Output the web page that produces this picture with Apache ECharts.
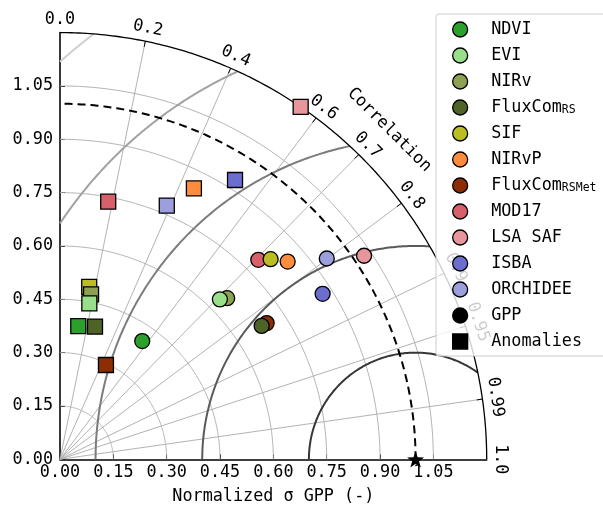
<!DOCTYPE html>
<html>
<head>
<meta charset="utf-8">
<script src="https://cdn.jsdelivr.net/npm/echarts@6.0.0/dist/echarts.min.js"></script>
<style>
html, body {margin: 0; padding: 0; background: #fff;}
#taylor {width: 603px; height: 505px;}
</style>
</head>
<body>
<div id="taylor"></div>
<script>
// models and their values (normalized std, correlation)
var models = ['NDVI', 'EVI', 'NIRv', 'FluxComRS', 'SIF', 'NIRvP', 'FluxComRSMet', 'MOD17', 'LSA SAF', 'ISBA', 'ORCHIDEE'];
var stdNorm  = [0.405, 0.636, 0.653, 0.680, 0.817, 0.848, 0.696, 0.791, 1.029, 0.873, 0.939];
var corrNorm = [0.571, 0.707, 0.720, 0.834, 0.725, 0.755, 0.835, 0.705, 0.831, 0.846, 0.799];
// anomalies (squares)
var stdAnom  = [0.378, 0.446, 0.472, 0.386, 0.492, 0.850, 0.295, 0.737, 1.200, 0.927, 0.774];
var corrAnom = [0.136, 0.185, 0.185, 0.255, 0.167, 0.443, 0.438, 0.184, 0.564, 0.531, 0.388];
var refStd = 1.0;

var stdTicks = [0.15, 0.30, 0.45, 0.60, 0.75, 0.90, 1.05];
var corrTicks = [0, 0.2, 0.4, 0.6, 0.7, 0.8, 0.9, 0.95, 0.99, 1];
var corrTickText = ['0.0', '0.2', '0.4', '0.6', '0.7', '0.8', '0.9', '0.95', '0.99', '1.0'];
var rmsLevels = [0.3, 0.6, 0.9, 1.2, 1.5];
var smax = 1.2;

var modelColors = ['#2ca02c', '#98df8a', '#8ca252', '#4f6228', '#bcbd22', '#fd8d3c', '#8c2d04', '#d6616b', '#e7969c', '#6b6ecf', '#9c9ede'];
var rmsColors = ['#363636', '#5a5a5a', '#7c7c7c', '#a2a2a2', '#cfcfcf'];
var FONT = 'DejaVu Sans Mono';
var FS = 16.8;

function toXY(s, c) {
    return [s * c, s * Math.sqrt(Math.max(0, 1 - c * c))];
}

// arc around (cx, 0)
function arc(cx, r, t0, t1) {
    var pts = [], n = 180;
    for (var i = 0; i <= n; i++) {
        var t = t0 + (t1 - t0) * i / n;
        pts.push([cx + r * Math.cos(t), r * Math.sin(t)]);
    }
    return pts;
}

// rms contour clipped to the quarter disc
function rmsArc(r) {
    var t0 = 0, t1 = Math.PI;
    if (refStd + r > smax) {
        var xi = (smax * smax + refStd * refStd - r * r) / (2 * refStd);
        var yi = Math.sqrt(smax * smax - xi * xi);
        t0 = Math.atan2(yi, xi - refStd);
    }
    if (r > refStd) {
        t1 = Math.atan2(Math.sqrt(r * r - refStd * refStd), -refStd);
    }
    return arc(refStd, r, t0, t1);
}

var gridArcs = stdTicks.map(function (s) {
    return {coords: arc(0, s, 0, Math.PI / 2)};
});
var radials = corrTicks.filter(function (c) { return c > 0 && c < 1; }).map(function (c) {
    return {coords: [[0, 0], toXY(smax, c)]};
});
var arcTicks = corrTicks.filter(function (c) { return c > 0 && c < 1; }).map(function (c) {
    return {coords: [toXY(smax, c), toXY(smax - 0.016, c)]};
});
var contours = rmsLevels.map(function (r, i) {
    return {coords: rmsArc(r), lineStyle: {color: rmsColors[i]}};
});
var corrLabelData = corrTicks.map(function (c, i) {
    var ang = Math.acos(c) * 180 / Math.PI;
    return {
        value: toXY(1.237, c),
        label: {formatter: corrTickText[i], rotate: ang - 90}
    };
});

var hidden = {color: 'rgba(0,0,0,0)', opacity: 1};
var series = [
    {type: 'lines', coordinateSystem: 'cartesian2d', polyline: true, silent: true, clip: false, z: 1,
     lineStyle: {color: '#b3b3b3', width: 1, opacity: 1}, data: gridArcs},
    {type: 'lines', coordinateSystem: 'cartesian2d', silent: true, clip: false, z: 1,
     lineStyle: {color: '#b3b3b3', width: 1, opacity: 1}, data: radials},
    {type: 'lines', coordinateSystem: 'cartesian2d', polyline: true, silent: true, clip: false, z: 2,
     lineStyle: {width: 2, opacity: 1}, data: contours},
    {type: 'lines', coordinateSystem: 'cartesian2d', polyline: true, silent: true, clip: false, z: 2,
     lineStyle: {color: '#000', width: 2, type: [8, 5], opacity: 1},
     data: [{coords: arc(0, refStd, 0, Math.PI / 2)}]},
    {type: 'lines', coordinateSystem: 'cartesian2d', polyline: true, silent: true, clip: false, z: 2,
     lineStyle: {color: '#000', width: 1.3, opacity: 1},
     data: [{coords: arc(0, smax, 0, Math.PI / 2)}]},
    {type: 'lines', coordinateSystem: 'cartesian2d', silent: true, clip: false, z: 2,
     lineStyle: {color: '#000', width: 1, opacity: 1}, data: arcTicks},
    {type: 'scatter', silent: true, clip: false, symbolSize: 2, itemStyle: hidden,
     label: {show: true, position: 'inside', fontFamily: FONT, fontSize: FS, color: '#000', align: 'center', verticalAlign: 'middle'},
     data: corrLabelData},
    {type: 'scatter', silent: true, clip: false, symbolSize: 2, itemStyle: hidden,
     label: {show: true, position: 'inside', formatter: 'Correlation', rotate: -45, fontFamily: FONT, fontSize: FS, color: '#000',
             align: 'center', verticalAlign: 'middle'},
     data: [toXY(1.31, Math.cos(Math.PI / 4))]}
];

// later models drawn first, as in the figure
for (var i = models.length - 1; i >= 0; i--) {
    series.push({
        name: models[i],
        type: 'scatter',
        clip: false,
        z: 5,
        symbol: 'circle',
        symbolSize: 15,
        itemStyle: {color: modelColors[i], borderColor: '#000', borderWidth: 1.3, opacity: 1},
        data: [
            {value: toXY(stdNorm[i], corrNorm[i])},
            {value: toXY(stdAnom[i], corrAnom[i]), symbol: 'rect'}
        ]
    });
}

var starPath = 'path://M0,-10L2.35,-3.24L9.51,-3.09L3.8,1.24L5.88,8.09L0,4L-5.88,8.09L-3.8,1.24L-9.51,-3.09L-2.35,-3.24Z';
var squarePath = 'path://M0,0L10,0L10,10L0,10Z';

series.push({
    name: 'GPP', type: 'scatter', clip: false, z: 6,
    symbol: starPath, symbolKeepAspect: true, symbolSize: 17,
    itemStyle: {color: '#000', opacity: 1},
    data: [toXY(refStd, 1)]
});
series.push({
    name: 'Anomalies', type: 'scatter', symbol: 'rect',
    itemStyle: {color: '#000', opacity: 1}, data: []
});

var legendData = models.map(function (m) { return {name: m, icon: 'circle'}; });
legendData.push({name: 'GPP', icon: 'circle'});
legendData.push({name: 'Anomalies', icon: squarePath});

var option = {
    animation: false,
    backgroundColor: '#fff',
    grid: {left: 60, top: 32.6, width: 426.7, height: 426.7, outerBoundsMode: 'none', containLabel: false},
    xAxis: {
        type: 'value', min: 0, max: 1.2, interval: 0.15,
        name: 'Normalized σ GPP (-)', nameLocation: 'middle', nameGap: 29,
        nameTextStyle: {fontFamily: FONT, fontSize: FS, color: '#000'},
        axisLine: {show: true, lineStyle: {color: '#000', width: 1.6}},
        axisTick: {show: true, inside: true, length: 5, lineStyle: {color: '#000'}},
        axisLabel: {fontFamily: FONT, fontSize: FS, color: '#000', margin: 5,
            formatter: function (v) { return v > 1.19 ? '' : v.toFixed(2); }},
        splitLine: {show: false}
    },
    yAxis: {
        type: 'value', min: 0, max: 1.2, interval: 0.15,
        axisLine: {show: true, lineStyle: {color: '#222', width: 1.8}},
        axisTick: {show: true, inside: true, length: 5, lineStyle: {color: '#000'}},
        axisLabel: {fontFamily: FONT, fontSize: FS, color: '#000', margin: 7,
            formatter: function (v) { return v > 1.19 ? '' : v.toFixed(2); }},
        splitLine: {show: false}
    },
    legend: {
        orient: 'vertical', left: 436, top: 14,
        padding: [7, 30, 6, 16],
        itemWidth: 52, itemHeight: 15, itemGap: 9,
        backgroundColor: 'rgba(255,255,255,0.8)', borderColor: '#cccccc', borderWidth: 1, borderRadius: 3,
        itemStyle: {borderColor: '#000', borderWidth: 1.3, opacity: 1},
        selectedMode: false,
        textStyle: {
            fontFamily: FONT, fontSize: FS, color: '#000', lineHeight: 17,
            rich: {
                n: {fontFamily: FONT, fontSize: FS, color: '#000', lineHeight: 17},
                s: {fontFamily: FONT, fontSize: 11.5, color: '#000', lineHeight: 9, verticalAlign: 'bottom'}
            }
        },
        formatter: function (name) {
            if (name === 'FluxComRS') return '{n|FluxCom}{s|RS}';
            if (name === 'FluxComRSMet') return '{n|FluxCom}{s|RSMet}';
            return name;
        },
        data: legendData
    },
    series: series
};

var taylor = echarts.init(document.getElementById('taylor'));
taylor.setOption(option);
</script>
</body>
</html>
